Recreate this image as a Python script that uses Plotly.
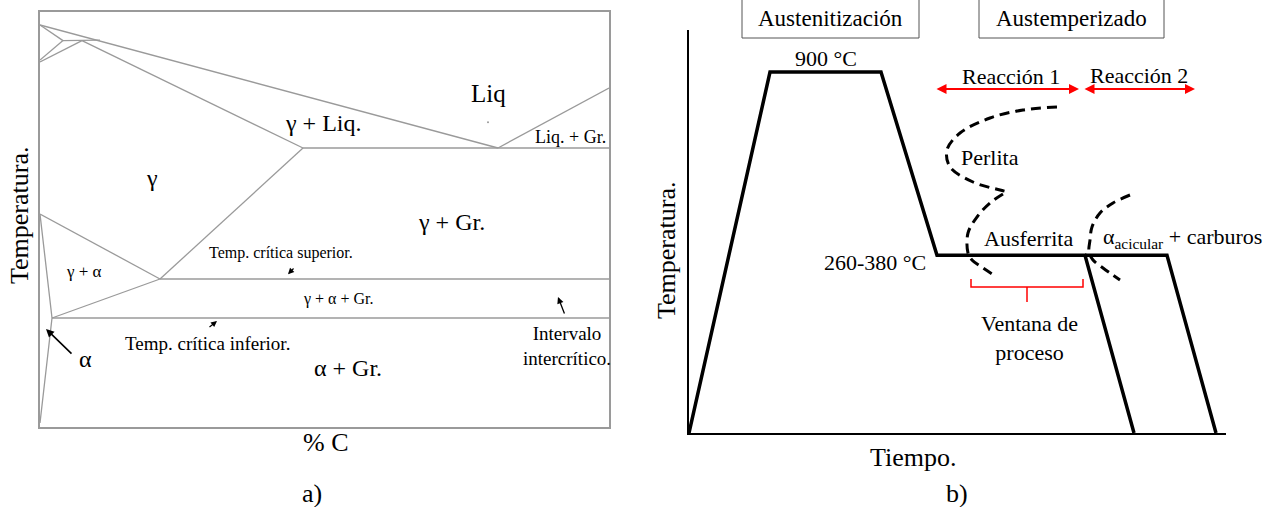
import plotly.graph_objects as go

FONT = "Liberation Serif"
W, H = 1271, 507
GRAY = "#9a9a9a"

# ---------------- a) schematic Fe-C(-Si) phase diagram ----------------
# x: % C, y: temperature (°C)
A_X_RANGE = [0, 5.69]
A_T_RANGE = [450, 1487.5]

liquidus_x = [0, 4.58]
liquidus_T = [1455, 1147.5]
gr_liquidus_x = [4.58, 5.69]
gr_liquidus_T = [1147.5, 1297.5]
eutectic_x = [2.63, 5.69]
eutectic_T = [1147.5, 1147.5]
solidus_x = [0.42, 2.63]
solidus_T = [1416, 1147.5]
peritectic_x = [0.23, 0.60]
peritectic_T = [1416, 1417]
delta_upper_x = [0, 0.23]
delta_upper_T = [1455, 1416]
delta_lower_x = [0, 0.23]
delta_lower_T = [1367.5, 1416]
delta_gamma_x = [0, 0.42]
delta_gamma_T = [1362.5, 1416]
acm_x = [2.63, 1.20]
acm_T = [1147.5, 820]
upper_crit_x = [1.20, 5.69]
upper_crit_T = [820, 820]
a3_x = [0, 1.20]
a3_T = [982.5, 820]
alpha_gamma_x = [0.12, 1.20]
alpha_gamma_T = [722.5, 820]
lower_crit_x = [0.12, 5.69]
lower_crit_T = [722.5, 722.5]
ferrite_x = [0, 0.12, 0]
ferrite_T = [982.5, 722.5, 460]

a_lines = [
    (liquidus_x, liquidus_T), (gr_liquidus_x, gr_liquidus_T),
    (eutectic_x, eutectic_T), (solidus_x, solidus_T),
    (peritectic_x, peritectic_T), (delta_upper_x, delta_upper_T),
    (delta_lower_x, delta_lower_T), (delta_gamma_x, delta_gamma_T),
    (acm_x, acm_T), (upper_crit_x, upper_crit_T), (a3_x, a3_T),
    (alpha_gamma_x, alpha_gamma_T), (lower_crit_x, lower_crit_T),
    (ferrite_x, ferrite_T),
]

# phase-field labels: text, %C, °C, font size
a_labels = [
    ("γ", 1.12, 1072, 24),
    ("γ + Liq.", 2.83, 1210, 24),
    ("Liq", 4.48, 1285, 25),
    ("Liq. + Gr.", 5.30, 1175, 18),
    ("γ + Gr.", 4.11, 962, 24),
    ("Temp. crítica superior.", 2.41, 885, 16),
    ("γ + α + Gr.", 2.98, 770, 16),
    ("γ + α", 0.44, 840, 17),
    ("Temp. crítica inferior.", 1.67, 660, 19),
    ("Intervalo<br>intercrítico.", 5.27, 652, 19),
    ("α + Gr.", 3.08, 597, 24),
    ("α", 0.45, 620, 24),
]

# pointer arrows: tip (%C, °C), tail (%C, °C), width
a_pointers = [
    (2.48, 832, 2.55, 850, 1.2),
    (1.77, 715, 1.68, 697, 1.2),
    (5.18, 775, 5.25, 730, 1.3),
    (0.06, 695, 0.33, 630, 1.6),
]

# ---------------- b) austempering heat-treatment cycle ----------------
# x: time (arbitrary units), y: temperature (°C)
B_X_RANGE = [0, 5.37]
B_T_RANGE = [-183, 1026]
T_AUST = 900
T_ISO = 350

cycle_t = [0, 0.81, 1.92, 2.48, 3.96, 4.45]
cycle_T = [-183, T_AUST, T_AUST, T_ISO, T_ISO, -183]
long_hold_t = [3.96, 4.78, 5.27]
long_hold_T = [T_ISO, T_ISO, -183]

# TTT curves
pearlite_t = [3.68, 3.34, 3.01, 2.71, 2.58, 2.61, 2.84, 3.11, 3.19]
pearlite_T = [795, 786, 762, 717, 666, 615, 570, 546, 540]
ausferrite_t = [3.14, 3.01, 2.88, 2.79, 2.79, 2.83, 2.94, 3.08]
ausferrite_T = [534, 507, 465, 417, 357, 336, 312, 285]
stage2_t = [4.41, 4.24, 4.11, 4.03, 4.01, 4.00, 4.04, 4.14, 4.31]
stage2_T = [531, 507, 477, 435, 396, 360, 336, 312, 276]

# reaction intervals (start, end) at the arrow temperature
REACTION_T = 849
reaction1 = (2.46, 3.90)
reaction2 = (3.94, 5.06)

# process window bracket
window_t = [2.82, 2.82, 3.94, 3.94]
window_T = [279, 255, 255, 279]
window_mid_t = [3.38, 3.38]
window_mid_T = [255, 210]

b_labels = [
    (f"{T_AUST} °C", 1.37, 939, 22),
    ("260-380 °C", 1.86, 330, 22),
    ("Reacción 1", 3.22, 885, 22),
    ("Reacción 2", 4.50, 888, 22),
    ("Perlita", 3.01, 645, 22),
    ("Ausferrita", 3.39, 402, 22),
    ("α<sub>acicular</sub> + carburos", 4.93, 402, 22),
    ("Ventana de<br>proceso", 3.40, 102, 22),
]

fig = go.Figure()

for xs, ys in a_lines:
    fig.add_trace(go.Scatter(x=xs, y=ys, mode="lines",
                             line=dict(color=GRAY, width=1.3),
                             xaxis="x", yaxis="y", hoverinfo="skip"))
fig.add_trace(go.Scatter(x=[4.48], y=[1212], mode="markers",
                         marker=dict(size=2, color=GRAY),
                         xaxis="x", yaxis="y", hoverinfo="skip"))

for xs, ys in [(cycle_t, cycle_T), (long_hold_t, long_hold_T)]:
    fig.add_trace(go.Scatter(x=xs, y=ys, mode="lines", cliponaxis=False,
                             line=dict(color="black", width=3.5),
                             xaxis="x2", yaxis="y2", hoverinfo="skip"))

for xs, ys in [(pearlite_t, pearlite_T), (ausferrite_t, ausferrite_T),
               (stage2_t, stage2_T)]:
    fig.add_trace(go.Scatter(x=xs, y=ys, mode="lines", line_shape="spline",
                             line=dict(color="black", width=3, dash="10px,6px"),
                             xaxis="x2", yaxis="y2", hoverinfo="skip"))

for xs, ys in [(window_t, window_T), (window_mid_t, window_mid_T)]:
    fig.add_trace(go.Scatter(x=xs, y=ys, mode="lines",
                             line=dict(color="red", width=1.5),
                             xaxis="x2", yaxis="y2", hoverinfo="skip"))

ann = []
for text, x, y, size in a_labels:
    ann.append(dict(text=text, x=x, y=y, xref="x", yref="y", showarrow=False,
                    xanchor="center", yanchor="middle",
                    font=dict(family=FONT, size=size, color="black")))
for tx, ty, sx, sy, w in a_pointers:
    ann.append(dict(text="", x=tx, y=ty, ax=sx, ay=sy, xref="x", yref="y",
                    axref="x", ayref="y", showarrow=True, arrowhead=2,
                    arrowsize=1, arrowwidth=w, arrowcolor="black"))
for text, x, y, size in b_labels:
    ann.append(dict(text=text, x=x, y=y, xref="x2", yref="y2", showarrow=False,
                    xanchor="center", yanchor="middle",
                    font=dict(family=FONT, size=size, color="black")))
for t0, t1 in (reaction1, reaction2):
    ann.append(dict(text="", x=t1, y=REACTION_T, ax=t0, ay=REACTION_T,
                    xref="x2", yref="y2", axref="x2", ayref="y2",
                    showarrow=True, arrowhead=2, startarrowhead=2,
                    arrowside="end+start", arrowsize=1, startarrowsize=1,
                    arrowwidth=2, arrowcolor="red"))

# axis titles, stage boxes and panel letters
titles = [
    ("Temperatura.", 20, 215, 26, -90),
    ("% C", 326, 442, 26, 0),
    ("a)", 312, 493, 26, 0),
    ("Temperatura.", 666, 250, 26, -90),
    ("Tiempo.", 913, 457, 26, 0),
    ("b)", 957, 493, 26, 0),
    ("Austenitización", 830, 19, 23, 0),
    ("Austemperizado", 1071, 19, 23, 0),
]
for text, px, py, size, ang in titles:
    ann.append(dict(text=text, x=px / W, y=1 - py / H, xref="paper",
                    yref="paper", showarrow=False, textangle=ang,
                    xanchor="center", yanchor="middle",
                    font=dict(family=FONT, size=size, color="black")))

shapes = []
for x0, x1 in [(742, 919), (979, 1164)]:
    shapes.append(dict(type="rect", xref="paper", yref="paper",
                       x0=x0 / W, x1=x1 / W, y0=1 - 38 / H, y1=1.02,
                       line=dict(color="#555555", width=1)))

hidden = dict(showgrid=False, zeroline=False, showticklabels=False, ticks="")

fig.update_layout(
    width=W, height=H, margin=dict(l=0, r=0, t=0, b=0),
    paper_bgcolor="white", plot_bgcolor="white", showlegend=False,
    xaxis=dict(domain=[40 / W, 609 / W], range=A_X_RANGE, anchor="y",
               showline=True, mirror=True, linecolor=GRAY, linewidth=2,
               **hidden),
    yaxis=dict(domain=[1 - 427 / H, 1 - 12 / H], range=A_T_RANGE, anchor="x",
               showline=True, mirror=True, linecolor=GRAY, linewidth=2,
               **hidden),
    xaxis2=dict(domain=[689 / W, 1226 / W], range=B_X_RANGE, anchor="y2",
                showline=True, linecolor="black", linewidth=2, **hidden),
    yaxis2=dict(domain=[1 - 433 / H, 1 - 30 / H], range=B_T_RANGE, anchor="x2",
                showline=True, linecolor="black", linewidth=2, **hidden),
    annotations=ann, shapes=shapes,
)

fig.write_html("out.html")
